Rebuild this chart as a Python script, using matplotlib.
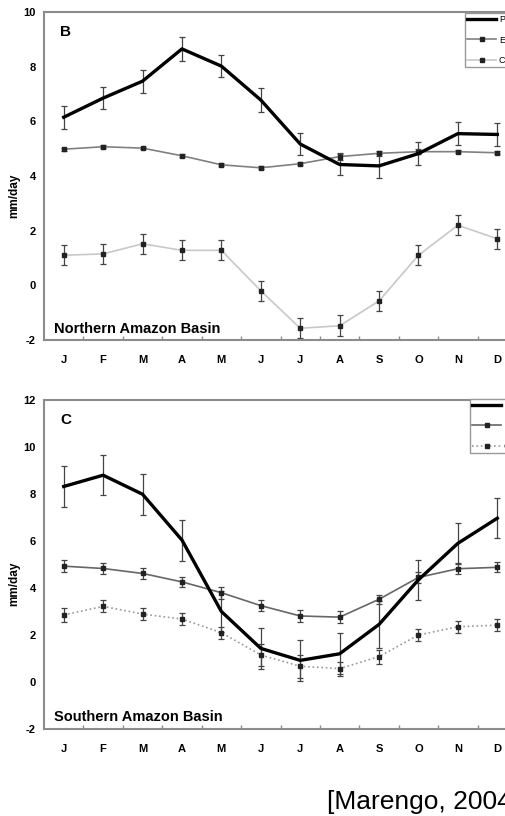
import matplotlib
matplotlib.use("Agg")
import matplotlib.pyplot as plt

plt.rcParams["font.family"] = ["Liberation Sans", "DejaVu Sans"]

# ==== DATOS ====
months = ["J", "F", "M", "A", "M", "J", "J", "A", "S", "O", "N", "D"]
x = list(range(1, 13))

# Northern Amazon Basin (panel B)
north_p = [6.15, 6.85, 7.47, 8.65, 8.02, 6.78, 5.17, 4.42, 4.37, 4.82, 5.55, 5.52]
north_p_err = [0.42, 0.40, 0.42, 0.43, 0.41, 0.43, 0.41, 0.40, 0.45, 0.41, 0.42, 0.41]
north_e = [4.98, 5.07, 5.02, 4.74, 4.41, 4.30, 4.45, 4.71, 4.83, 4.89, 4.89, 4.85]
north_e_err = [0.06, 0.05, 0.05, 0.05, 0.05, 0.06, 0.06, 0.12, 0.10, 0.08, 0.06, 0.06]
north_c = [1.10, 1.15, 1.52, 1.28, 1.28, -0.20, -1.57, -1.48, -0.57, 1.10, 2.20, 1.70]
north_c_err = [0.36, 0.37, 0.37, 0.37, 0.37, 0.37, 0.36, 0.38, 0.38, 0.37, 0.36, 0.37]

# Southern Amazon Basin (panel C)
south_p = [8.32, 8.80, 7.99, 6.04, 3.00, 1.43, 0.92, 1.20, 2.45, 4.35, 5.90, 6.97]
south_p_err = [0.86, 0.86, 0.87, 0.87, 0.87, 0.87, 0.87, 0.87, 1.00, 0.85, 0.88, 0.85]
south_e = [4.93, 4.83, 4.62, 4.26, 3.80, 3.25, 2.81, 2.76, 3.52, 4.45, 4.82, 4.88]
south_e_err = [0.25, 0.25, 0.22, 0.22, 0.25, 0.22, 0.25, 0.25, 0.20, 0.25, 0.23, 0.22]
south_c = [2.85, 3.22, 2.89, 2.68, 2.10, 1.15, 0.67, 0.57, 1.08, 2.00, 2.35, 2.42]
south_c_err = [0.28, 0.25, 0.25, 0.25, 0.25, 0.45, 0.50, 0.30, 0.30, 0.25, 0.25, 0.25]

W, H = 506, 816
fig = plt.figure(figsize=(W / 100, H / 100), dpi=100)

spine_col = "#8c8c8c"
err_col = "#444444"


def panel(rect, p, p_err, e, e_err, c, c_err, ylim, yticks, letter, region, c_style, e_col, c_col, leg_xy):
    ax = fig.add_axes(rect)
    # barras de error
    ax.errorbar(x, p, yerr=p_err, fmt="none", ecolor=err_col, elinewidth=0.9, capsize=2.5, capthick=0.9)
    ax.errorbar(x, e, yerr=e_err, fmt="none", ecolor=err_col, elinewidth=0.9, capsize=2.5, capthick=0.9)
    ax.errorbar(x, c, yerr=c_err, fmt="none", ecolor=err_col, elinewidth=0.9, capsize=2.5, capthick=0.9)
    # líneas
    ax.plot(x, p, color="black", lw=2.4, label="P", zorder=5)
    ax.plot(x, e, color=e_col, lw=1.2, marker="s", ms=2.2, mfc="#222222", mec="#222222", label="E", zorder=4)
    ax.plot(x, c, color=c_col, lw=1.2, ls=c_style, marker="s", ms=2.6, mfc="#222222", mec="#222222", label="C", zorder=4)

    ax.set_xlim(0.5, 12.5)
    ax.set_ylim(*ylim)
    ax.set_xticks(x)
    ax.set_xticklabels(months, fontsize=8, fontweight="bold")
    ax.set_xticks([i + 0.5 for i in range(1, 12)], minor=True)
    ax.set_yticks(yticks)
    ax.set_yticklabels([str(v) for v in yticks], fontsize=8, fontweight="bold")
    ax.tick_params(axis="x", which="major", length=0, pad=11)
    ax.tick_params(axis="x", which="minor", length=3, direction="in", color=spine_col, width=1)
    ax.tick_params(axis="y", length=0, pad=6)

    for s in ["left", "bottom", "top"]:
        ax.spines[s].set_color(spine_col)
        ax.spines[s].set_linewidth(1.5)
    ax.spines["right"].set_visible(False)

    ax.set_ylabel("mm/day", fontsize=8.5, fontweight="bold")
    ax.yaxis.set_label_coords(-0.05, 0.44)

    ax.text(0.034, 0.94, letter, transform=ax.transAxes, fontsize=11, fontweight="bold", va="center")
    ax.text(0.022, 0.035, region, transform=ax.transAxes, fontsize=10.5, fontweight="bold", va="center")

    leg = ax.legend(loc="upper left", bbox_to_anchor=leg_xy, bbox_transform=fig.transFigure,
                    fontsize=6.5, frameon=True, fancybox=False, framealpha=1, edgecolor="#999999",
                    handlelength=3.2, handletextpad=0.3, labelspacing=1.25, borderpad=0.25,
                    borderaxespad=0)
    leg.get_frame().set_linewidth(1.0)
    return ax


panel([44 / W, 1 - 340 / H, 473 / W, 328 / H],
      north_p, north_p_err, north_e, north_e_err, north_c, north_c_err,
      (-2, 10), [-2, 0, 2, 4, 6, 8, 10], "B", "Northern Amazon Basin",
      "-", "#808080", "#c8c8c8", (465 / W, 1 - 13 / H))

panel([44 / W, 1 - 729 / H, 473 / W, 329 / H],
      south_p, south_p_err, south_e, south_e_err, south_c, south_c_err,
      (-2, 12), [-2, 0, 2, 4, 6, 8, 10, 12], "C", "Southern Amazon Basin",
      ":", "#666666", "#999999", (470 / W, 1 - 399 / H))

fig.text(327 / W, 1 - 802 / H, "[Marengo, 2004]", fontsize=19, va="center", ha="left")

fig.savefig("out.png", dpi=100)
